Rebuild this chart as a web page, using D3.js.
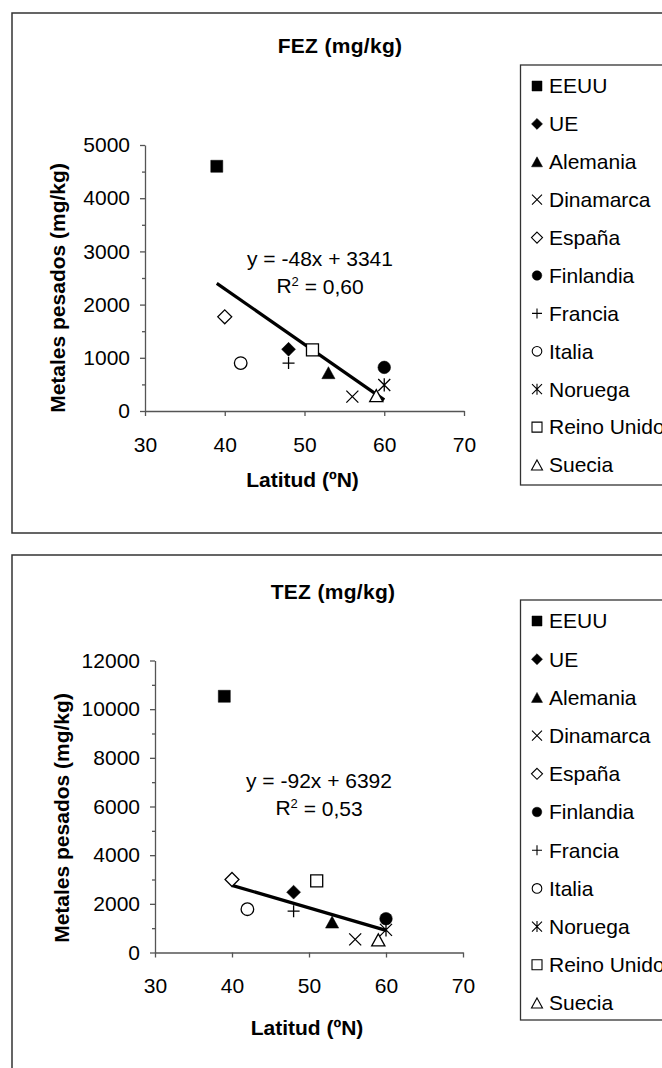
<!DOCTYPE html>
<html>
<head>
<meta charset="utf-8">
<script src="https://cdn.jsdelivr.net/npm/d3@7"></script>
<style>
  html, body { margin: 0; padding: 0; background: #fff; }
  svg { display: block; }
  text { font-family: "Liberation Sans", Arial, sans-serif; fill: #000; }
</style>
</head>
<body>
<svg id="chart" width="662" height="1068"></svg>
<script>
// ---------- data ----------
const countries = ["EEUU","UE","Alemania","Dinamarca","España","Finlandia","Francia","Italia","Noruega","Reino Unido","Suecia"];
const markers   = ["squareFill","diamondFill","triangleFill","x","diamondOpen","circleFill","plus","circleOpen","asterisk","squareOpen","triangleOpen"];
const latitude  = [39, 48, 53, 56, 40, 60, 48, 42, 60, 51, 59];
const fezValues = [4600, 1160, 720, 270, 1770, 820, 900, 900, 490, 1150, 290];
const tezValues = [10530, 2480, 1250, 540, 3000, 1390, 1700, 1780, 930, 2940, 520];
const fezTrendX = [39, 60];
const fezTrendY = [2400, 210];
const tezTrendX = [40, 60];
const tezTrendY = [2760, 910];
const xTicks = [30, 40, 50, 60, 70];
const fezYTicks = [0, 1000, 2000, 3000, 4000, 5000];
const fezYMinor = [500, 1500, 2500, 3500, 4500];
const tezYTicks = [0, 2000, 4000, 6000, 8000, 10000, 12000];
const tezYMinor = [1000, 3000, 5000, 7000, 9000, 11000];
const fezEquation = ["y = -48x + 3341", "0,60"];
const tezEquation = ["y = -92x + 6392", "0,53"];

// ---------- marker shapes ----------
function markerPath(type, s) {
  const p = d3.path();
  switch (type) {
    case "squareFill": case "squareOpen":
      p.rect(-s, -s, 2 * s, 2 * s); break;
    case "diamondFill": case "diamondOpen": {
      const d = s * 1.2;
      p.moveTo(0, -d); p.lineTo(d, 0); p.lineTo(0, d); p.lineTo(-d, 0); p.closePath(); break;
    }
    case "triangleFill": case "triangleOpen": {
      const w = s * 1.1;
      p.moveTo(0, -s); p.lineTo(w, s); p.lineTo(-w, s); p.closePath(); break;
    }
    case "circleFill": case "circleOpen":
      p.moveTo(s, 0); p.arc(0, 0, s, 0, 2 * Math.PI); break;
    case "x":
      p.moveTo(-s, -s); p.lineTo(s, s); p.moveTo(s, -s); p.lineTo(-s, s); break;
    case "plus":
      p.moveTo(-s, 0); p.lineTo(s, 0); p.moveTo(0, -s); p.lineTo(0, s); break;
    case "asterisk":
      p.moveTo(-s, -s); p.lineTo(s, s); p.moveTo(s, -s); p.lineTo(-s, s);
      p.moveTo(0, -s * 1.1); p.lineTo(0, s * 1.1); break;
  }
  return p.toString();
}
function markerStyle(sel, type, sw) {
  const filled = /Fill$/.test(type);
  const lineOnly = type === "x" || type === "plus" || type === "asterisk";
  sel.attr("fill", filled ? "#000" : (lineOnly ? "none" : "#fff"))
     .attr("stroke", "#000")
     .attr("stroke-width", filled ? 0.5 : sw);
}

const svg = d3.select("#chart");

function drawPanel(cfg) {
  const g = svg.append("g");
  // outer frame (runs off the right edge)
  g.append("rect")
    .attr("x", 12).attr("y", cfg.frameTop)
    .attr("width", 700).attr("height", cfg.frameH)
    .attr("fill", "none").attr("stroke", "#333").attr("stroke-width", 1.5);

  // title
  g.append("text")
    .attr("x", cfg.titleX).attr("y", cfg.titleY).attr("dy", "0.35em")
    .attr("text-anchor", "middle").attr("font-weight", "bold")
    .attr("font-size", 21).attr("letter-spacing", 0.3)
    .text(cfg.title);

  const x = d3.scaleLinear().domain([30, 70]).range([cfg.x0, cfg.x1]);
  const y = d3.scaleLinear().domain([0, cfg.yMax]).range([cfg.y0, cfg.y1]);

  // x axis
  const xa = g.append("g").attr("transform", `translate(0,${cfg.y0})`)
    .call(d3.axisBottom(x).tickValues(xTicks).tickSize(5).tickSizeOuter(0).tickPadding(21).tickFormat(d3.format("d")));
  // y axis
  const ya = g.append("g").attr("transform", `translate(${cfg.x0},0)`)
    .call(d3.axisLeft(y).tickValues(cfg.yTicks).tickSize(5).tickSizeOuter(0).tickPadding(10).tickFormat(d3.format("d")));
  const ym = g.append("g").attr("transform", `translate(${cfg.x0},0)`)
    .call(d3.axisLeft(y).tickValues(cfg.yMinor).tickSize(3).tickSizeOuter(0).tickFormat(""));
  ym.select(".domain").remove();
  [xa, ya, ym].forEach(a => {
    a.selectAll("path, line").attr("stroke", "#555").attr("stroke-width", 1.3);
    a.selectAll("text").attr("font-size", 21).attr("fill", "#000")
      .attr("font-family", "'Liberation Sans', Arial, sans-serif");
  });

  // axis titles
  g.append("text")
    .attr("x", (cfg.x0 + cfg.x1) / 2 - 2).attr("y", cfg.xTitleY).attr("dy", "0.35em")
    .attr("text-anchor", "middle").attr("font-weight", "bold").attr("font-size", 21)
    .text("Latitud (ºN)");
  g.append("text")
    .attr("transform", `translate(${cfg.yTitleX},${cfg.yTitleY}) rotate(-90)`)
    .attr("dy", "0.35em")
    .attr("text-anchor", "middle").attr("font-weight", "bold").attr("font-size", 21)
    .text("Metales pesados (mg/kg)");

  // trend line
  g.append("line")
    .attr("x1", x(cfg.trendX[0])).attr("y1", y(cfg.trendY[0]))
    .attr("x2", x(cfg.trendX[1])).attr("y2", y(cfg.trendY[1]))
    .attr("stroke", "#000").attr("stroke-width", 3.2);

  // points
  countries.forEach((c, i) => {
    const t = markers[i];
    const s = (t === "diamondFill" || t === "diamondOpen") ? 5.8 : (t.startsWith("circle") ? 6.3 : 6);
    g.append("path")
      .attr("transform", `translate(${x(latitude[i])},${y(cfg.values[i])})`)
      .attr("d", markerPath(t, s))
      .call(markerStyle, t, 1.3);
  });

  // equation
  g.append("text")
    .attr("x", cfg.eqX).attr("y", cfg.eqY).attr("dy", "0.35em")
    .attr("text-anchor", "middle").attr("font-size", 21)
    .text(cfg.eq[0]);
  const r2 = g.append("text")
    .attr("x", cfg.eqX).attr("y", cfg.eqY + 27).attr("dy", "0.35em")
    .attr("text-anchor", "middle").attr("font-size", 21);
  r2.append("tspan").text("R");
  r2.append("tspan").attr("font-size", 13).attr("dy", "-0.6em").text("2");
  r2.append("tspan").attr("dy", "0.4em").text(" = " + cfg.eq[1]);

  // legend
  g.append("rect")
    .attr("x", 520.5).attr("y", cfg.legTop)
    .attr("width", 300).attr("height", cfg.legH)
    .attr("fill", "#fff").attr("stroke", "#333").attr("stroke-width", 1.3);
  countries.forEach((c, i) => {
    const cy = cfg.legFirst + i * cfg.legStep;
    const t = markers[i];
    const s = (t === "diamondFill" || t === "diamondOpen") ? 4.6 : (t.startsWith("circle") ? 4.8 : 5);
    g.append("path")
      .attr("transform", `translate(537,${cy})`)
      .attr("d", markerPath(t, s))
      .call(markerStyle, t, 1.1);
    g.append("text")
      .attr("x", 549).attr("y", cy).attr("dy", "0.35em")
      .attr("font-size", 21)
      .text(c);
  });
}

drawPanel({
  frameTop: 13, frameH: 520,
  title: "FEZ (mg/kg)", titleX: 340, titleY: 46,
  x0: 145, x1: 464, y0: 411, y1: 145, yMax: 5000,
  yTicks: fezYTicks, yMinor: fezYMinor,
  values: fezValues, trendX: fezTrendX, trendY: fezTrendY,
  xTitleY: 480, yTitleX: 58, yTitleY: 288,
  eq: fezEquation, eqX: 320, eqY: 259,
  legTop: 65, legH: 420, legFirst: 86, legStep: 37.9
});

drawPanel({
  frameTop: 555, frameH: 600,
  title: "TEZ (mg/kg)", titleX: 333, titleY: 592,
  x0: 155, x1: 463, y0: 952.5, y1: 660.5, yMax: 12000,
  yTicks: tezYTicks, yMinor: tezYMinor,
  values: tezValues, trendX: tezTrendX, trendY: tezTrendY,
  xTitleY: 1028, yTitleX: 62, yTitleY: 818,
  eq: tezEquation, eqX: 319, eqY: 781,
  legTop: 600, legH: 420, legFirst: 621, legStep: 38.2
});
</script>
</body>
</html>
